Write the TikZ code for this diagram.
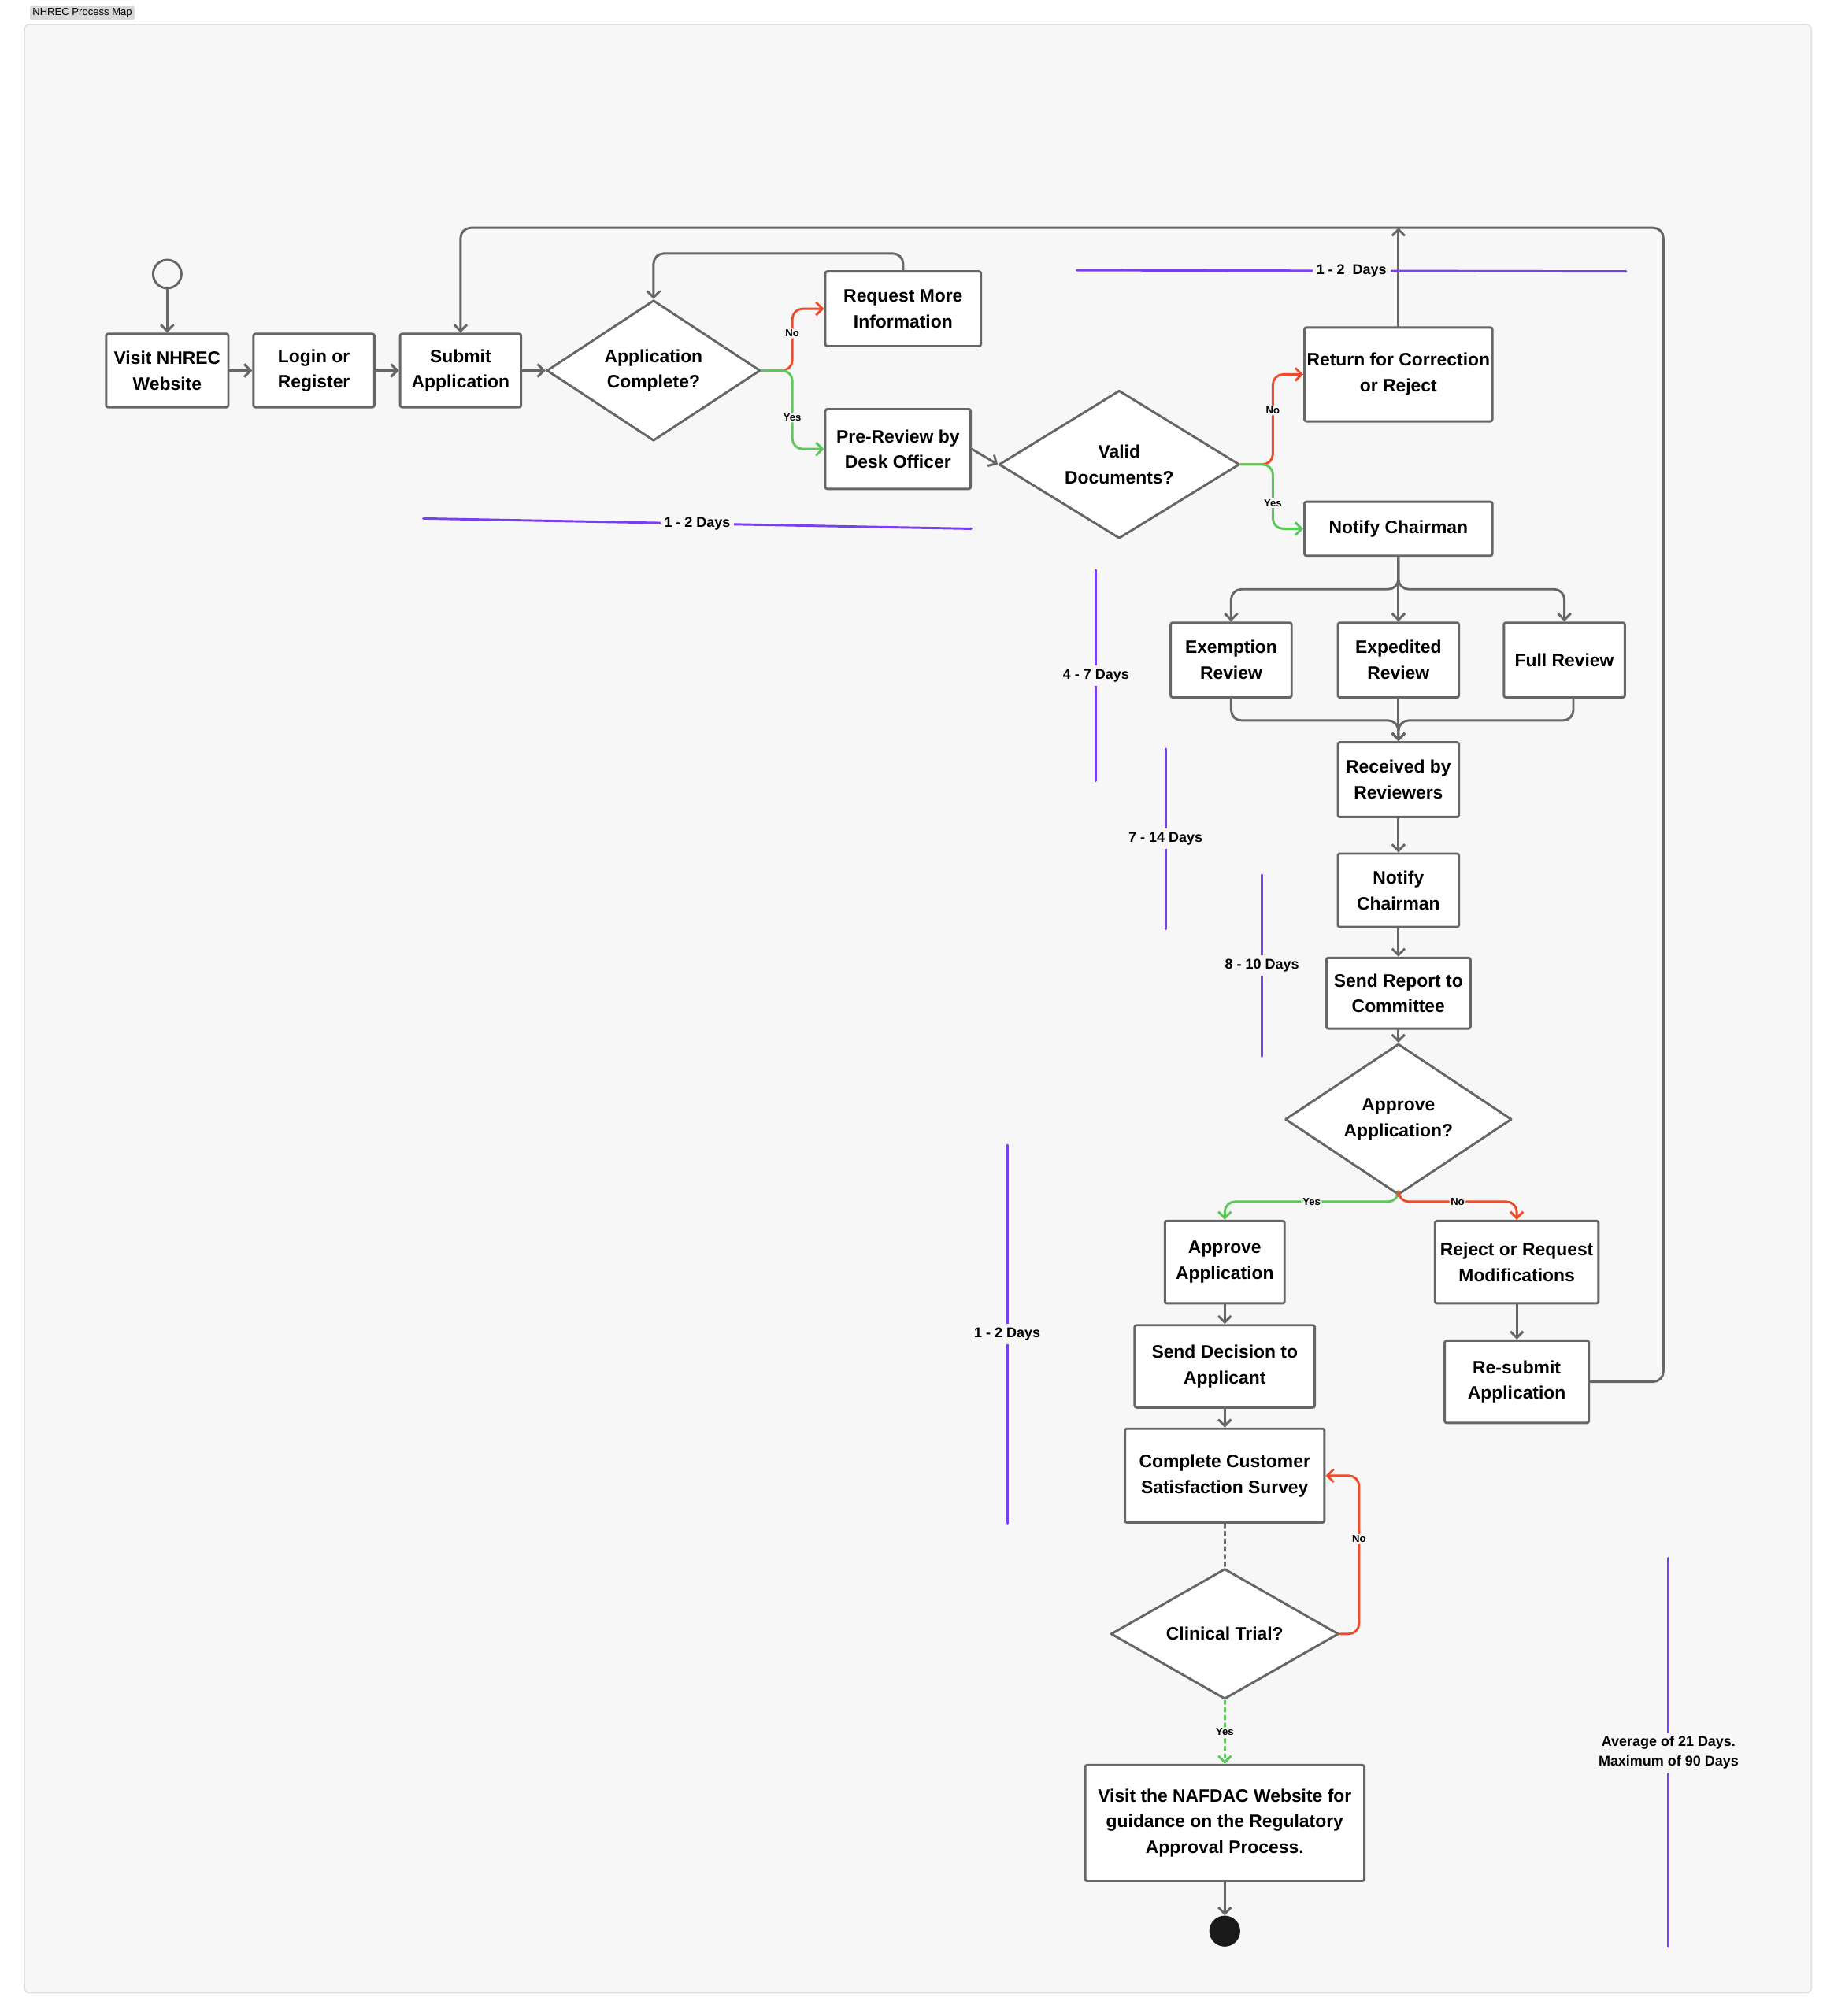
\documentclass[tikz,border=0pt]{standalone}
\usepackage{fontspec}
\setmainfont{Liberation Sans}
\usetikzlibrary{arrows.meta, shapes.geometric}
\definecolor{edge}{HTML}{666666}
\definecolor{nored}{HTML}{EE4B2B}
\definecolor{yesgreen}{HTML}{5CC85C}
\definecolor{span}{HTML}{7B3FF2}

\begin{document}
\begin{tikzpicture}[
	x = 1pt, y = -1pt,
	line join = round, line cap = round,
	% cajas
	box/.style = {
		draw = edge, line width = 1.8pt, fill = white,
		rounded corners = 1.5pt, align = center, inner sep = 0pt,
		font = \fontsize{14}{20}\selectfont\bfseries
	},
	% decisiones
	decision/.style = {
		box, diamond, rounded corners = 0pt
	},
	% conectores
	flow/.style = {
		draw = edge, line width = 1.8pt, rounded corners = 8pt,
		arrows = -{Straight Barb[length = 5pt, width = 10pt]}
	},
	no/.style = {flow, draw = nored},
	yes/.style = {flow, draw = yesgreen},
	tag/.style = {
		fill = black!3, inner sep = 1pt,
		font = \fontsize{8}{9}\selectfont\bfseries
	},
	% duraciones
	span/.style = {draw = span, line width = 1.8pt},
	spantext/.style = {
		fill = black!3, inner sep = 3pt, align = center,
		font = \fontsize{11}{15}\selectfont\bfseries
	},
]

	% fondo y marco
	\fill[white] (0,0) rectangle (1425,1567);
	\draw[black!12, fill = black!3, line width = 1pt, rounded corners = 4pt]
		(19,19) rectangle (1408,1549);
	\node[fill = black!15, rounded corners = 2pt, inner sep = 2pt,
		font = \fontsize{8}{9}\selectfont] (title) at (64,10) {NHREC Process Map};

	% nodos
	\node[circle, draw = edge, line width = 1.8pt, minimum size = 22pt] (start) at (130,213) {};
	\node[box, minimum width = 95, minimum height = 57] (visit) at (130,288) {Visit NHREC\\Website};
	\node[box, minimum width = 94, minimum height = 57] (login) at (244,288) {Login or\\Register};
	\node[box, minimum width = 94, minimum height = 57] (submit) at (358,288) {Submit\\Application};
	\node[decision, minimum width = 166, minimum height = 93] (appQ) at (508,288) {Application\\Complete?};
	\node[box, minimum width = 121, minimum height = 58] (more) at (702,240) {Request More\\Information};
	\node[box, minimum width = 113, minimum height = 62] (prerev) at (698,349) {Pre-Review by\\Desk Officer};
	\node[decision, minimum width = 187, minimum height = 107] (validQ) at (870,361) {Valid\\Documents?};
	\node[box, minimum width = 146, minimum height = 73] (ret) at (1087,291) {Return for Correction\\or Reject};
	\node[box, minimum width = 146, minimum height = 42] (notify) at (1087,411) {Notify Chairman};
	\node[box, minimum width = 94, minimum height = 58] (exempt) at (957,513) {Exemption\\Review};
	\node[box, minimum width = 94, minimum height = 58] (exped) at (1087,513) {Expedited\\Review};
	\node[box, minimum width = 94, minimum height = 58] (full) at (1216,513) {Full Review};
	\node[box, minimum width = 94, minimum height = 58] (recv) at (1087,606) {Received by\\Reviewers};
	\node[box, minimum width = 94, minimum height = 57] (notify2) at (1087,692) {Notify\\Chairman};
	\node[box, minimum width = 112, minimum height = 55] (report) at (1087,772) {Send Report to\\Committee};
	\node[decision, minimum width = 176, minimum height = 98] (approveQ) at (1087,870) {Approve\\Application?};
	\node[box, minimum width = 93, minimum height = 64] (approve) at (952,981) {Approve\\Application};
	\node[box, minimum width = 127, minimum height = 64] (reject) at (1179,981) {Reject or Request\\Modifications};
	\node[box, minimum width = 140, minimum height = 64] (decision) at (952,1062) {Send Decision to\\Applicant};
	\node[box, minimum width = 112, minimum height = 64] (resubmit) at (1179,1074) {Re-submit\\Application};
	\node[box, minimum width = 155, minimum height = 73] (survey) at (952,1147) {Complete Customer\\Satisfaction Survey};
	\node[decision, minimum width = 177, minimum height = 100] (trialQ) at (952,1270) {Clinical Trial?};
	\node[box, minimum width = 217, minimum height = 90] (nafdac) at (952,1417) {Visit the NAFDAC Website for\\guidance on the Regulatory\\Approval Process.};
	\node[circle, fill = black!90, minimum size = 24pt, inner sep = 0pt] (stop) at (952,1501) {};
	\coordinate (top) at (1087,177);

	% flujo principal
	\draw[flow] (start) -- (visit);
	\draw[flow] (visit) -- (login);
	\draw[flow] (login) -- (submit);
	\draw[flow] (submit) -- (appQ);
	\draw[no] (appQ.east) -- ++(24,0) |- node[tag, pos = 0.3] {No} (more.west);
	\draw[yes] (appQ.east) -- ++(24,0) |- node[tag, pos = 0.3] {Yes} (prerev.west);
	\draw[flow] (more.north) |- (508,197) -- (appQ.north);
	\draw[flow] (prerev.east) -- (validQ.west);
	\draw[no] (validQ.east) -- ++(25,0) |- node[tag, pos = 0.3] {No} (ret.west);
	\draw[yes] (validQ.east) -- ++(25,0) |- node[tag, pos = 0.3] {Yes} (notify.west);
	\draw[flow] (ret.north) -- (top);
	\draw[flow] (resubmit.east) -| (1293,177) -| (submit.north);

	% revisiones
	\draw[flow] (notify.south) |- (957,458) -- (exempt.north);
	\draw[flow] (notify.south) -- (exped.north);
	\draw[flow] (notify.south) |- (1216,458) -- (full.north);
	\draw[flow] (exempt.south) |- (1087,560) -- (recv.north);
	\draw[flow] (1223,542) |- (1087,560) -- (recv.north);
	\draw[flow] (exped.south) -- (recv.north);
	\draw[flow] (recv) -- (notify2);
	\draw[flow] (notify2) -- (report);
	\draw[flow] (report) -- (approveQ);

	% decisión del comité
	\draw[yes] (approveQ.south) |- node[tag, pos = 0.75] {Yes} (952,934) -- (approve.north);
	\draw[no] (approveQ.south) |- node[tag, pos = 0.75] {No} (1179,934) -- (reject.north);
	\draw[flow] (approve) -- (decision);
	\draw[flow] (decision) -- (survey);
	\draw[flow] (reject) -- (resubmit);
	\draw[draw = edge, line width = 1.8pt, dashed] (survey) -- (trialQ);
	\draw[no] (trialQ.east) -- ++(15,0) |- node[tag, pos = 0.3] {No} (survey.east);
	\draw[yes, dashed] (trialQ.south) -- node[tag] {Yes} (nafdac.north);
	\draw[flow] (nafdac) -- (stop);

	% duraciones
	\draw[span] (837,210) -- node[spantext] {1 - 2~ Days} (1264,211);
	\draw[span] (329,403) -- node[spantext] {1 - 2 Days} (755,411);
	\draw[span] (852,443) -- node[spantext, pos = 0.5] {4 - 7 Days} (852,607);
	\draw[span] (906,582) -- node[spantext] {7 - 14 Days} (906,722);
	\draw[span] (981,680) -- node[spantext] {8 - 10 Days} (981,821);
	\draw[span] (783,890) -- node[spantext] {1 - 2 Days} (783,1184);
	\draw[span] (1297,1211) -- node[spantext] {Average of 21 Days.\\Maximum of 90 Days} (1297,1513);

\end{tikzpicture}
\end{document}
